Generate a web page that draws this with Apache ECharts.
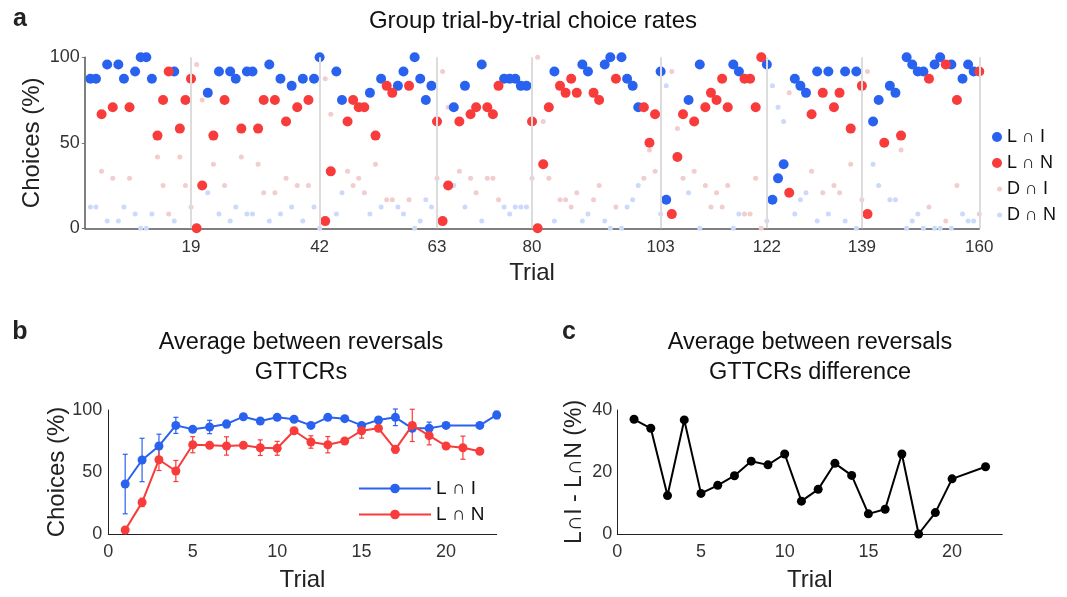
<!DOCTYPE html>
<html>
<head>
<meta charset="utf-8">
<script src="https://cdn.jsdelivr.net/npm/echarts@6/dist/echarts.min.js"></script>
<style>
  html, body { margin: 0; padding: 0; background: #fff; }
  #chart { width: 1067px; height: 597px; }
</style>
</head>
<body>
<div id="chart"></div>
<script>
const FONT = '"Liberation Sans", Arial, Helvetica, sans-serif';

// ---- Panel a: group choice rate on every trial (% of participants); null = option pair not shown
const trials = Array.from({ length: 160 }, (_, i) => i + 1);
const reversalTicks = [19, 42, 63, 80, 103, 122, 139, 160];

const rateLI = [
  87.5, 87.5, null, 95.8, null, 95.8, 87.5, null, 91.7, 100,
  100, 87.5, null, null, null, 91.7, null, null, null, null,
  null, 79.2, null, 91.7, null, 91.7, 87.5, null, 91.7, 91.7,
  null, null, 95.8, null, 87.5, null, 83.3, null, 87.5, null,
  87.5, 100, null, null, 91.7, 75, null, null, null, null,
  79.2, null, 87.5, null, null, 83.3, 91.7, null, 100, 87.5,
  75, 83.3, null, null, null, 70.8, null, 83.3, null, null,
  95.8, null, null, null, 87.5, 87.5, 87.5, 83.3, 83.3, null,
  null, null, null, 91.7, null, null, null, null, 95.8, 91.7,
  null, null, 95.8, 100, null, 100, 87.5, 83.3, 70.8, null,
  null, null, 91.7, 16.7, null, null, null, 75, null, 95.8,
  null, null, null, null, null, 95.8, 91.7, null, null, null,
  null, 95.8, 16.7, 29.2, 37.5, null, 87.5, 83.3, 79.2, null,
  91.7, null, 91.7, null, null, 91.7, null, 91.7, null, null,
  62.5, 75, null, 83.3, 79.2, null, 100, 95.8, 91.7, 91.7,
  null, 95.8, 100, null, 95.8, null, 87.5, 95.8, 91.7, null
];
const rateLN = [
  null, null, 66.7, null, 70.8, null, null, 70.8, null, null,
  null, null, 54.2, 75, 91.7, null, 58.3, 75, 87.5, 0,
  25, null, 54.2, null, 75, null, null, 58.3, null, null,
  58.3, 75, null, 75, null, 62.5, null, 70.8, null, 75,
  null, null, 4.2, 33.3, null, null, 62.5, 75, 70.8, 70.8,
  null, 54.2, null, 83.3, 79.2, null, null, 83.3, null, null,
  null, null, 62.5, 4.2, 25, null, 62.5, null, 66.7, 70.8,
  null, 70.8, 66.7, 83.3, null, null, null, null, null, 62.5,
  0, 37.5, 70.8, null, 83.3, 79.2, 87.5, 79.2, null, null,
  79.2, 75, null, null, 87.5, null, null, null, null, 70.8,
  50, 66.7, null, null, 8.3, 41.7, 66.7, null, 62.5, null,
  70.8, 79.2, 75, 87.5, 70.8, null, null, 87.5, 87.5, 70.8,
  100, null, null, null, null, 20.8, null, null, null, 66.7,
  null, 79.2, null, 70.8, 79.2, null, 58.3, null, 83.3, 8.3,
  null, null, 50, null, null, 54.2, null, null, null, null,
  87.5, null, null, 95.8, null, 75, null, null, null, 91.7
];
const rateDI = [
  null, null, 33.3, null, 29.2, null, null, 29.2, null, null,
  null, null, 41.7, 25, 8.3, null, 41.7, 25, 12.5, 95.8,
  75, null, 37.5, null, 25, null, null, 41.7, null, null,
  37.5, 20.8, null, 20.8, null, 29.2, null, 25, null, 25,
  null, null, 87.5, 66.7, null, null, 33.3, 25, 29.2, 20.8,
  null, 37.5, null, 16.7, 16.7, null, null, 16.7, null, null,
  null, null, 29.2, 91.7, 70.8, null, 33.3, null, 29.2, 20.8,
  null, 29.2, 29.2, 16.7, null, null, null, null, null, 29.2,
  100, 62.5, 29.2, null, 16.7, 16.7, 12.5, 20.8, null, null,
  16.7, 25, null, null, 12.5, null, null, null, null, 29.2,
  45.8, 33.3, null, null, 91.7, 58.3, 29.2, null, 33.3, null,
  25, 12.5, 20.8, 12.5, 25, null, null, 8.3, 8.3, 29.2,
  0, null, null, null, null, 79.2, null, null, null, 33.3,
  null, 20.8, null, 25, 20.8, null, 37.5, null, 16.7, 91.7,
  null, null, 50, null, null, 45.8, null, null, null, null,
  12.5, null, null, 4.2, null, 25, null, null, null, 8.3
];
const rateDN = [
  12.5, 12.5, null, 4.2, null, 4.2, 12.5, null, 8.3, 0,
  0, 8.3, null, null, null, 4.2, null, null, null, null,
  null, 20.8, null, 8.3, null, 4.2, 12.5, null, 8.3, 8.3,
  null, null, 4.2, null, 8.3, null, 12.5, null, 4.2, null,
  12.5, 0, null, null, 8.3, 20.8, null, null, null, null,
  8.3, null, 12.5, null, null, 12.5, 8.3, null, 0, 4.2,
  16.7, 12.5, null, null, null, 25, null, 12.5, null, null,
  4.2, null, null, null, 12.5, 8.3, 12.5, 12.5, 12.5, null,
  null, null, null, 4.2, null, null, null, null, 4.2, 8.3,
  null, null, 4.2, 0, null, 0, 12.5, 16.7, 25, null,
  null, null, 8.3, 83.3, null, null, null, 20.8, null, 0,
  null, null, null, null, null, 0, 8.3, null, null, null,
  null, 4.2, 83.3, 70.8, 62.5, null, 8.3, 16.7, 20.8, null,
  4.2, null, 8.3, null, null, 4.2, null, 0, null, null,
  37.5, 25, null, 16.7, 16.7, null, 0, 4.2, 8.3, 0,
  null, 0, 0, null, 0, null, 8.3, 4.2, 4.2, null
];

// ---- Panel b: average across reversal blocks, by trial since reversal (mean and error)
const blockTrials = Array.from({ length: 23 }, (_, i) => i + 1);
const meanLI = [40.3, 59.7, 71.0, 87.6, 84.4, 86.3, 88.7, 94.6, 91.1, 94.1, 92.5, 87.6,
                94.1, 93.0, 87.6, 91.9, 94.1, 85.2, 85.2, 87.6, null, 87.6, 96.0];
const errLI  = [24, 17.5, 9.5, 6.5, 2, 5.4, 3, 2, 2, 2, 2, 2,
                2, 2, 2, 2, 6.7, 2, 5, 2, null, 2, 3];
const meanLN = [3.2, 25.5, 59.9, 50.8, 72.0, 71.5, 71.0, 71.5, 69.6, 69.1, 83.3, 74.2,
                72.0, 75.0, 83.3, 85.2, 68.3, 87.6, 79.3, 71.0, 69.6, 66.7, null];
const errLN  = [1, 3.4, 8.7, 8.5, 6.5, 2, 7.4, 2, 6.3, 5.6, 2, 5,
                6.6, 2, 6, 2, 3, 13, 7.4, 2, 9.3, 2, null];

// ---- Panel c: L∩I minus L∩N
const diffLILN = [37.0, 34.1, 12.4, 36.8, 13.1, 15.7, 18.8, 23.5, 22.3, 25.8, 10.6,
                  14.4, 22.8, 18.9, 6.5, 8.0, 25.8, 0, 6.9, 17.8, null, 21.7];

const BLUE = '#2a62f0', RED = '#f83b3b', PINK = '#f2cdcd', PALEBLUE = '#cbd9fb';

function pairs(xs, ys) {
  return xs.map((x, i) => [x, ys[i]]).filter(p => p[1] != null);
}
function errTriples(xs, ys, es) {
  return xs.map((x, i) => [x, ys[i], es[i]]).filter(p => p[1] != null && p[2] != null);
}
function errorBarRenderer(color) {
  return function (params, api) {
    const x = api.value(0), y = api.value(1), e = api.value(2);
    const lo = api.coord([x, y - e]);
    const hi = api.coord([x, y + e]);
    const cap = 2.5;
    const style = { stroke: color, lineWidth: 1.2 };
    return {
      type: 'group',
      children: [
        { type: 'line', shape: { x1: lo[0], y1: lo[1], x2: hi[0], y2: hi[1] }, style },
        { type: 'line', shape: { x1: lo[0] - cap, y1: lo[1], x2: lo[0] + cap, y2: lo[1] }, style },
        { type: 'line', shape: { x1: hi[0] - cap, y1: hi[1], x2: hi[0] + cap, y2: hi[1] }, style }
      ]
    };
  };
}

const labelStyle = (size, margin) => ({ fontFamily: FONT, fontSize: size, color: '#333', margin });
const nameStyle = (size) => ({ fontFamily: FONT, fontSize: size, color: '#222' });

const chart = echarts.init(document.getElementById('chart'), null, { renderer: 'canvas' });

chart.setOption({
  animation: false,
  backgroundColor: '#fff',
  textStyle: { fontFamily: FONT },
  graphic: [
    { type: 'text', x: 20, y: 19, style: { text: 'a', font: 'bold 25px ' + FONT, fill: '#222', align: 'center', verticalAlign: 'middle' } },
    { type: 'text', x: 533, y: 21, style: { text: 'Group trial-by-trial choice rates', font: '24px ' + FONT, fill: '#111', align: 'center', verticalAlign: 'middle' } },
    { type: 'text', x: 20, y: 332, style: { text: 'b', font: 'bold 25px ' + FONT, fill: '#222', align: 'center', verticalAlign: 'middle' } },
    { type: 'text', x: 301, y: 358, style: { text: 'Average between reversals\nGTTCRs', font: '23.5px ' + FONT, lineHeight: 30, fill: '#111', align: 'center', verticalAlign: 'middle' } },
    { type: 'text', x: 569, y: 332, style: { text: 'c', font: 'bold 25px ' + FONT, fill: '#222', align: 'center', verticalAlign: 'middle' } },
    { type: 'text', x: 810, y: 358, style: { text: 'Average between reversals\nGTTCRs difference', font: '23.5px ' + FONT, lineHeight: 30, fill: '#111', align: 'center', verticalAlign: 'middle' } }
  ],
  legend: [
    {
      data: ['L ∩ I', 'L ∩ N'], orient: 'vertical', left: 992, top: 128, padding: 0,
      itemWidth: 10, itemHeight: 10, itemGap: 8, icon: 'circle',
      textStyle: { fontFamily: FONT, fontSize: 18, color: '#111' }
    },
    {
      data: ['D ∩ I', 'D ∩ N'], orient: 'vertical', left: 997, top: 180, padding: 0,
      itemWidth: 5, itemHeight: 5, itemGap: 8, icon: 'circle',
      textStyle: { fontFamily: FONT, fontSize: 18, color: '#111' }
    },
    {
      data: ['L ∩ I mean', 'L ∩ N mean'], orient: 'vertical', left: 358, top: 479, padding: 0,
      itemWidth: 72, itemHeight: 12, itemGap: 7,
      formatter: name => name.replace(' mean', ''),
      textStyle: { fontFamily: FONT, fontSize: 19, color: '#111' }
    }
  ],
  grid: [
    { left: 84.8, top: 57.3, width: 894.5, height: 171 },
    { left: 108.3, top: 410, width: 388.4, height: 124 },
    { left: 617.3, top: 410, width: 385, height: 124 }
  ],
  xAxis: [
    {
      gridIndex: 0, type: 'value', min: 0, max: 160,
      axisLine: { lineStyle: { color: '#555', width: 1.5 } },
      axisTick: { show: false },
      axisLabel: Object.assign(labelStyle(17, 11), { customValues: reversalTicks }),
      splitLine: { show: false },
      name: 'Trial', nameLocation: 'middle', nameGap: 33, nameMoveOverlap: false, nameTextStyle: nameStyle(24)
    },
    {
      gridIndex: 1, type: 'value', min: 0, max: 23, interval: 5,
      axisLine: { lineStyle: { color: '#222', width: 1 } },
      axisTick: { show: false },
      axisLabel: Object.assign(labelStyle(18, 9), { showMaxLabel: false }),
      splitLine: { show: false },
      name: 'Trial', nameLocation: 'middle', nameGap: 34, nameMoveOverlap: false, nameTextStyle: nameStyle(24)
    },
    {
      gridIndex: 2, type: 'value', min: 0, max: 23, interval: 5,
      axisLine: { lineStyle: { color: '#222', width: 1 } },
      axisTick: { show: false },
      axisLabel: Object.assign(labelStyle(18, 9), { showMaxLabel: false }),
      splitLine: { show: false },
      name: 'Trial', nameLocation: 'middle', nameGap: 34, nameMoveOverlap: false, nameTextStyle: nameStyle(24)
    }
  ],
  yAxis: [
    {
      gridIndex: 0, type: 'value', min: 0, max: 100, interval: 50,
      axisLine: { show: true, lineStyle: { color: '#555', width: 1.5 } },
      axisTick: { show: true, length: 3, lineStyle: { color: '#777' } },
      axisLabel: labelStyle(18, 5),
      splitLine: { show: false },
      name: 'Choices (%)', nameLocation: 'middle', nameGap: 40, nameMoveOverlap: false, nameTextStyle: nameStyle(24)
    },
    {
      gridIndex: 1, type: 'value', min: 0, max: 100, interval: 50,
      axisLine: { show: true, lineStyle: { color: '#222', width: 1 } },
      axisTick: { show: false },
      axisLabel: labelStyle(18, 6),
      splitLine: { show: false },
      name: 'Choices (%)', nameLocation: 'middle', nameGap: 39, nameMoveOverlap: false, nameTextStyle: nameStyle(24)
    },
    {
      gridIndex: 2, type: 'value', min: 0, max: 40, interval: 20,
      axisLine: { show: true, lineStyle: { color: '#222', width: 1 } },
      axisTick: { show: false },
      axisLabel: labelStyle(18, 5),
      splitLine: { show: false },
      name: 'L∩I - L∩N (%)', nameLocation: 'middle', nameGap: 31, nameMoveOverlap: false, nameTextStyle: nameStyle(23)
    }
  ],
  series: [
    // reversal markers
    {
      type: 'scatter', xAxisIndex: 0, yAxisIndex: 0, data: [], z: 1, silent: true,
      markLine: {
        silent: true, symbol: ['none', 'none'], label: { show: false },
        lineStyle: { color: '#dcdcdc', width: 2, type: 'solid' },
        data: reversalTicks.map(v => ({ xAxis: v }))
      }
    },
    {
      name: 'D ∩ N', type: 'scatter', xAxisIndex: 0, yAxisIndex: 0, z: 2,
      symbolSize: 5, itemStyle: { color: PALEBLUE, opacity: 1 }, data: pairs(trials, rateDN)
    },
    {
      name: 'D ∩ I', type: 'scatter', xAxisIndex: 0, yAxisIndex: 0, z: 2,
      symbolSize: 5, itemStyle: { color: PINK, opacity: 1 }, data: pairs(trials, rateDI)
    },
    {
      name: 'L ∩ I', type: 'scatter', xAxisIndex: 0, yAxisIndex: 0, z: 3,
      symbolSize: 10, itemStyle: { color: BLUE, opacity: 1 }, data: pairs(trials, rateLI)
    },
    {
      name: 'L ∩ N', type: 'scatter', xAxisIndex: 0, yAxisIndex: 0, z: 4,
      symbolSize: 10, itemStyle: { color: RED, opacity: 1 }, data: pairs(trials, rateLN)
    },

    // panel b
    {
      type: 'custom', xAxisIndex: 1, yAxisIndex: 1, z: 2, silent: true,
      renderItem: errorBarRenderer(BLUE), encode: { x: 0, y: 1 },
      data: errTriples(blockTrials, meanLI, errLI)
    },
    {
      type: 'custom', xAxisIndex: 1, yAxisIndex: 1, z: 2, silent: true,
      renderItem: errorBarRenderer(RED), encode: { x: 0, y: 1 },
      data: errTriples(blockTrials, meanLN, errLN)
    },
    {
      name: 'L ∩ I mean', type: 'line', xAxisIndex: 1, yAxisIndex: 1, z: 3,
      symbol: 'circle', symbolSize: 9, showAllSymbol: true,
      itemStyle: { color: BLUE }, lineStyle: { color: BLUE, width: 2 },
      data: pairs(blockTrials, meanLI)
    },
    {
      name: 'L ∩ N mean', type: 'line', xAxisIndex: 1, yAxisIndex: 1, z: 4,
      symbol: 'circle', symbolSize: 9, showAllSymbol: true,
      itemStyle: { color: RED }, lineStyle: { color: RED, width: 2 },
      data: pairs(blockTrials, meanLN)
    },

    // panel c
    {
      type: 'line', xAxisIndex: 2, yAxisIndex: 2, z: 3,
      symbol: 'circle', symbolSize: 9, showAllSymbol: true,
      itemStyle: { color: '#000' }, lineStyle: { color: '#000', width: 2 },
      data: pairs(blockTrials, diffLILN)
    }
  ]
});
</script>
</body>
</html>
